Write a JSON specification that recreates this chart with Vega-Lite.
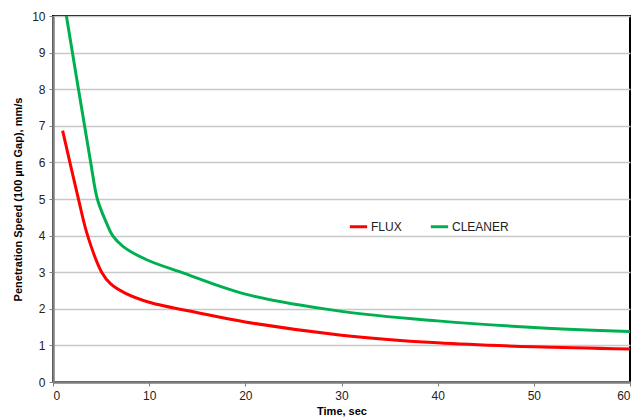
{
  "$schema": "https://vega.github.io/schema/vega-lite/v6.json",
  "autosize": "none",
  "width": 577,
  "height": 366,
  "padding": {"left": 53, "top": 16, "right": 12, "bottom": 37},
  "background": "white",
  "config": {
    "font": "Liberation Sans",
    "view": {"stroke": "#000000", "strokeWidth": 2},
    "axis": {
      "labelFont": "Liberation Sans",
      "labelFontSize": 12,
      "labelColor": "#222222",
      "titleFont": "Liberation Sans",
      "titleFontSize": 11,
      "titleFontWeight": "bold",
      "titleColor": "#000000",
      "domainColor": "#7f7f7f",
      "domainWidth": 2.5,
      "tickColor": "#7f7f7f",
      "tickSize": 4,
      "tickWidth": 1,
      "gridColor": "#c8c8c8",
      "gridWidth": 1.3
    }
  },
  "data": {
    "values": [
      {"t": 1.0, "v": 6.87, "s": "FLUX"},
      {"t": 2.6, "v": 5.05, "s": "FLUX"},
      {"t": 3.6, "v": 4.0, "s": "FLUX"},
      {"t": 5.06, "v": 3.0, "s": "FLUX"},
      {"t": 6.0, "v": 2.68, "s": "FLUX"},
      {"t": 7.5, "v": 2.43, "s": "FLUX"},
      {"t": 10.0, "v": 2.18, "s": "FLUX"},
      {"t": 15.3, "v": 1.88, "s": "FLUX"},
      {"t": 20.0, "v": 1.64, "s": "FLUX"},
      {"t": 30.0, "v": 1.28, "s": "FLUX"},
      {"t": 40.0, "v": 1.07, "s": "FLUX"},
      {"t": 50.0, "v": 0.96, "s": "FLUX"},
      {"t": 60.0, "v": 0.9, "s": "FLUX"},
      {"t": 1.0, "v": 10.63, "s": "CLEANER"},
      {"t": 3.92, "v": 6.0, "s": "CLEANER"},
      {"t": 4.61, "v": 5.0, "s": "CLEANER"},
      {"t": 5.57, "v": 4.34, "s": "CLEANER"},
      {"t": 6.2, "v": 4.0, "s": "CLEANER"},
      {"t": 7.3, "v": 3.7, "s": "CLEANER"},
      {"t": 9.74, "v": 3.34, "s": "CLEANER"},
      {"t": 13.3, "v": 3.0, "s": "CLEANER"},
      {"t": 20.0, "v": 2.4, "s": "CLEANER"},
      {"t": 30.0, "v": 1.93, "s": "CLEANER"},
      {"t": 40.0, "v": 1.67, "s": "CLEANER"},
      {"t": 50.0, "v": 1.49, "s": "CLEANER"},
      {"t": 60.0, "v": 1.38, "s": "CLEANER"}
    ]
  },
  "mark": {"type": "line", "interpolate": "catmull-rom", "strokeWidth": 3, "clip": true},
  "encoding": {
    "x": {
      "field": "t", "type": "quantitative",
      "scale": {"domain": [0, 60], "nice": false},
      "axis": {"values": [0, 10, 20, 30, 40, 50, 60], "grid": false, "title": "Time, sec", "titlePadding": 4, "labelPadding": 4}
    },
    "y": {
      "field": "v", "type": "quantitative",
      "scale": {"domain": [0, 10], "nice": false},
      "axis": {"values": [0, 1, 2, 3, 4, 5, 6, 7, 8, 9, 10], "grid": true, "title": "Penetration Speed (100 µm Gap), mm/s", "titlePadding": 8, "labelPadding": 4}
    },
    "color": {
      "field": "s", "type": "nominal",
      "scale": {"domain": ["FLUX", "CLEANER"], "range": ["#ff0000", "#00b050"]},
      "legend": {
        "title": null,
        "orient": "none",
        "direction": "horizontal",
        "legendX": 295,
        "legendY": 200,
        "symbolType": "stroke",
        "symbolStrokeWidth": 3,
        "symbolSize": 300,
        "labelFont": "Liberation Sans",
        "labelFontSize": 12,
        "labelColor": "#222222",
        "labelOffset": 2,
        "columnPadding": 22
      }
    }
  }
}
